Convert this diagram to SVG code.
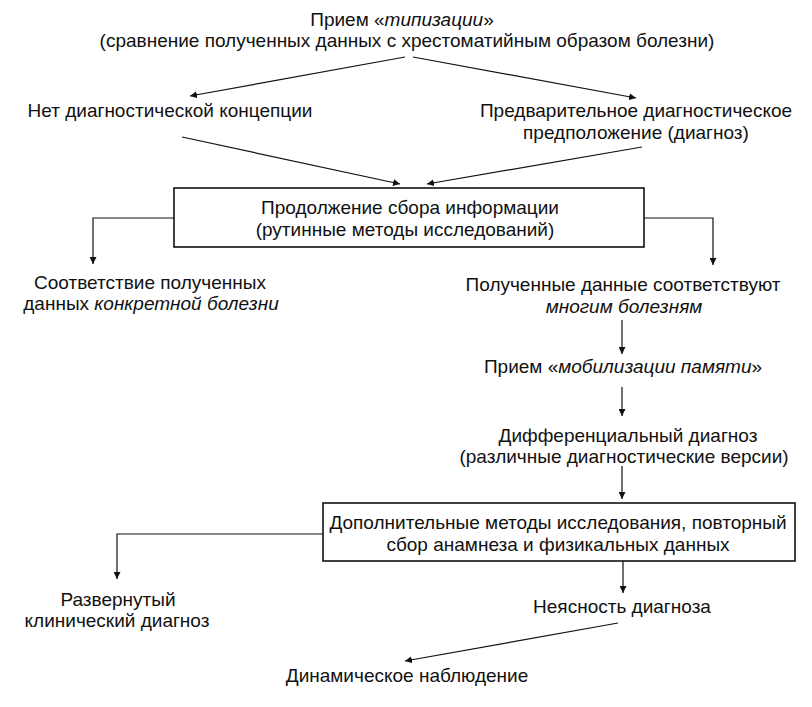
<svg xmlns="http://www.w3.org/2000/svg" width="812" height="707" viewBox="0 0 812 707">
<style>
text{font-family:"Liberation Sans",Arial,sans-serif;font-size:19px;fill:#111;text-anchor:middle}
.i{font-style:italic}
.c{fill:none;stroke:#111;stroke-width:1.2}
.b{fill:#fff;stroke:#111;stroke-width:1.6}
</style>
<defs>
<marker id="a" viewBox="0 0 10 10" refX="10" refY="5" markerWidth="7" markerHeight="7" markerUnits="userSpaceOnUse" orient="auto">
<path d="M0,0L10,5L0,10z" fill="#111"/>
</marker>
</defs>
<rect width="812" height="707" fill="#fff"/>
<g id="connectors">
<line class="c" x1="405" y1="57" x2="190" y2="96" marker-end="url(#a)"/>
<line class="c" x1="413" y1="57" x2="636" y2="98" marker-end="url(#a)"/>
<line class="c" x1="182" y1="137" x2="400" y2="184" marker-end="url(#a)"/>
<line class="c" x1="642" y1="147" x2="427" y2="184" marker-end="url(#a)"/>
<polyline class="c" points="174,218 93,218 93,264" marker-end="url(#a)"/>
<polyline class="c" points="644,218 713,218 713,265" marker-end="url(#a)"/>
<line class="c" x1="622" y1="320" x2="622" y2="354" marker-end="url(#a)"/>
<line class="c" x1="622" y1="387" x2="622" y2="416" marker-end="url(#a)"/>
<line class="c" x1="622" y1="466" x2="622" y2="499" marker-end="url(#a)"/>
<polyline class="c" points="323,534 117,534 117,579" marker-end="url(#a)"/>
<line class="c" x1="623" y1="561" x2="623" y2="593" marker-end="url(#a)"/>
<line class="c" x1="618" y1="623" x2="405" y2="661" marker-end="url(#a)"/>
</g>
<g id="n-typing">
<text x="402" y="26">Прием «<tspan class="i">типизации</tspan>»</text>
<text x="407" y="47">(сравнение полученных данных с хрестоматийным образом болезни)</text>
</g>
<g id="n-noconcept">
<text x="170" y="117">Нет диагностической концепции</text>
</g>
<g id="n-prelim">
<text x="636" y="117">Предварительное диагностическое</text>
<text x="636" y="139">предположение (диагноз)</text>
</g>
<g id="n-continue">
<rect class="b" x="174" y="188" width="470" height="59"/>
<text x="410" y="214">Продолжение сбора информации</text>
<text x="405" y="236">(рутинные методы исследований)</text>
</g>
<g id="n-match">
<text x="150" y="289">Соответствие полученных</text>
<text x="151" y="310">данных <tspan class="i">конкретной болезни</tspan></text>
</g>
<g id="n-many">
<text x="623" y="291">Полученные данные соответствуют</text>
<text x="624" y="313" class="i">многим болезням</text>
</g>
<g id="n-memory">
<text x="623" y="373">Прием «<tspan class="i">мобилизации памяти</tspan>»</text>
</g>
<g id="n-diff">
<text x="628" y="442">Дифференциальный диагноз</text>
<text x="624" y="463">(различные диагностические версии)</text>
</g>
<g id="n-extra">
<rect class="b" x="323" y="503" width="472" height="58"/>
<text x="558" y="529">Дополнительные методы исследования, повторный</text>
<text x="558" y="551">сбор анамнеза и физикальных данных</text>
</g>
<g id="n-full">
<text x="118" y="606">Развернутый</text>
<text x="117" y="627">клинический диагноз</text>
</g>
<g id="n-unclear">
<text x="622" y="613">Неясность диагноза</text>
</g>
<g id="n-dynamic">
<text x="407" y="682">Динамическое наблюдение</text>
</g>
</svg>
